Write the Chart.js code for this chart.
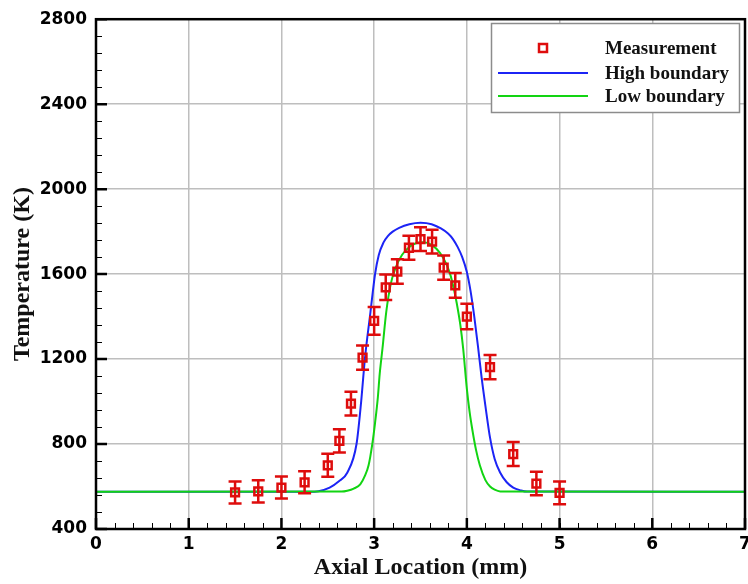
<!DOCTYPE html>
<html>
<head>
<meta charset="utf-8">
<script src="https://cdn.jsdelivr.net/npm/chart.js@4.4.0/dist/chart.umd.min.js"></script>
<style>
  html, body { margin: 0; padding: 0; background: #fff; }
  canvas { display: block; }
</style>
</head>
<body>
<canvas id="tempChart" width="748" height="584"></canvas>
<script>
// measured temperature along the axis, with error bar half-widths
const measX = [1.5, 1.75, 2, 2.25, 2.5, 2.625, 2.75, 2.875, 3, 3.125, 3.25, 3.375, 3.5, 3.625, 3.75, 3.875, 4, 4.25, 4.5, 4.75, 5];
const measT = [572, 577, 595, 620, 700, 815, 990, 1207, 1380, 1538, 1612, 1724, 1765, 1753, 1630, 1547, 1400, 1162, 753, 614, 570];
const measErr = [52, 52, 52, 52, 54, 55, 56, 57, 65, 60, 58, 56, 56, 56, 57, 58, 60, 57, 57, 55, 54];

// simulated profiles
const highX = [0, 2.30, 2.40, 2.52, 2.62, 2.71, 2.81, 2.86, 2.90, 2.96, 3.01, 3.05, 3.10, 3.15, 3.20, 3.27, 3.38, 3.50, 3.62, 3.72, 3.80, 3.85, 3.90, 3.95, 4.00, 4.04, 4.08, 4.12, 4.16, 4.20, 4.25, 4.30, 4.36, 4.43, 4.50, 4.58, 4.65, 7];
const highT = [575, 575, 578, 595, 625, 665, 800, 1000, 1200, 1420, 1600, 1690, 1748, 1780, 1800, 1818, 1835, 1842, 1835, 1815, 1790, 1765, 1728, 1680, 1610, 1520, 1400, 1260, 1110, 980, 830, 730, 665, 620, 595, 582, 576, 575];

const lowX = [0, 2.65, 2.71, 2.78, 2.85, 2.90, 2.94, 2.98, 3.01, 3.04, 3.06, 3.09, 3.13, 3.18, 3.23, 3.30, 3.38, 3.45, 3.53, 3.62, 3.71, 3.77, 3.82, 3.86, 3.89, 3.93, 3.96, 4.00, 4.03, 4.06, 4.10, 4.14, 4.20, 4.25, 4.30, 4.36, 7];
const lowT = [575, 576, 580, 590, 610, 650, 700, 800, 900, 1020, 1130, 1250, 1420, 1555, 1628, 1690, 1728, 1745, 1750, 1738, 1700, 1655, 1600, 1530, 1465, 1360, 1250, 1060, 950, 865, 770, 700, 630, 600, 585, 577, 575];

const xTicks = [0, 1, 2, 3, 4, 5, 6, 7];
const yTicks = [400, 800, 1200, 1600, 2000, 2400, 2800];

const seriesNames = ['Measurement', 'High boundary', 'Low boundary'];
const RED = 'rgb(222,12,12)';
const BLUE = 'rgb(28,36,245)';
const GREEN = 'rgb(18,212,18)';

const toPoints = (xs, ys) => xs.map((x, i) => ({ x: x, y: ys[i] }));

// vertical error bars for the measurement set
const errorBars = {
  id: 'errorBars',
  afterDatasetsDraw(chart) {
    const ctx = chart.ctx;
    const xs = chart.scales.x, ys = chart.scales.y;
    ctx.save();
    ctx.strokeStyle = RED;
    ctx.lineWidth = 2.5;
    measX.forEach((mx, i) => {
      const px = xs.getPixelForValue(mx);
      const top = ys.getPixelForValue(measT[i] + measErr[i]);
      const bot = ys.getPixelForValue(measT[i] - measErr[i]);
      ctx.beginPath();
      ctx.moveTo(px, top); ctx.lineTo(px, bot);
      ctx.moveTo(px - 6.5, top); ctx.lineTo(px + 6.5, top);
      ctx.moveTo(px - 6.5, bot); ctx.lineTo(px + 6.5, bot);
      ctx.stroke();
    });
    ctx.restore();
  }
};

// box frame plus inward major/minor ticks on the left and bottom
const frameTicks = {
  id: 'frameTicks',
  afterDraw(chart) {
    const ctx = chart.ctx;
    const a = chart.chartArea;
    const xs = chart.scales.x, ys = chart.scales.y;
    ctx.save();
    ctx.strokeStyle = '#000';
    // minor
    ctx.lineWidth = 1;
    ctx.beginPath();
    for (let i = 0; i <= 35; i++) {
      const px = Math.round(xs.getPixelForValue(i * 0.2)) + 0.5;
      ctx.moveTo(px, a.bottom); ctx.lineTo(px, a.bottom - 6);
    }
    for (let i = 0; i <= 30; i++) {
      const py = Math.round(ys.getPixelForValue(400 + i * 80)) + 0.5;
      ctx.moveTo(a.left, py); ctx.lineTo(a.left + 6, py);
    }
    ctx.stroke();
    // major
    ctx.lineWidth = 2.5;
    ctx.beginPath();
    xTicks.forEach(v => {
      const px = xs.getPixelForValue(v);
      ctx.moveTo(px, a.bottom); ctx.lineTo(px, a.bottom - 11);
    });
    yTicks.forEach(v => {
      const py = ys.getPixelForValue(v);
      ctx.moveTo(a.left, py); ctx.lineTo(a.left + 11, py);
    });
    ctx.stroke();
    ctx.strokeRect(a.left, a.top, a.right - a.left, a.bottom - a.top);
    ctx.restore();
  }
};

// boxed legend in the upper right corner
const boxLegend = {
  id: 'boxLegend',
  afterDraw(chart) {
    const ctx = chart.ctx;
    ctx.save();
    ctx.fillStyle = '#fff';
    ctx.fillRect(491, 23, 249, 90);
    ctx.strokeStyle = '#8c8c8c';
    ctx.lineWidth = 1.5;
    ctx.strokeRect(491.5, 23.5, 248, 89);

    const rows = [48, 73, 96];
    ctx.strokeStyle = RED;
    ctx.lineWidth = 2.5;
    ctx.strokeRect(539, 44, 8, 8);
    ctx.lineWidth = 2;
    ctx.strokeStyle = BLUE;
    ctx.beginPath(); ctx.moveTo(498, rows[1]); ctx.lineTo(588, rows[1]); ctx.stroke();
    ctx.strokeStyle = GREEN;
    ctx.beginPath(); ctx.moveTo(498, rows[2]); ctx.lineTo(588, rows[2]); ctx.stroke();

    ctx.fillStyle = '#111';
    ctx.font = 'bold 19px "Liberation Serif"';
    ctx.textBaseline = 'middle';
    ctx.textAlign = 'left';
    seriesNames.forEach((n, i) => ctx.fillText(n, 605, rows[i] + 1));
    ctx.restore();
  }
};

const tickFont = { family: 'DejaVu Sans', weight: 'bold', size: 17 };
const titleFont = { family: 'Liberation Serif', weight: 'bold', size: 24 };

new Chart(document.getElementById('tempChart'), {
  type: 'scatter',
  data: {
    datasets: [
      {
        label: seriesNames[0],
        data: toPoints(measX, measT),
        pointStyle: 'rect',
        pointRadius: 5.5,
        pointBorderWidth: 2.5,
        borderColor: RED,
        backgroundColor: 'rgba(0,0,0,0)',
        showLine: false,
        order: 0
      },
      {
        label: seriesNames[1],
        data: toPoints(highX, highT),
        showLine: true,
        borderColor: BLUE,
        borderWidth: 2,
        pointRadius: 0,
        cubicInterpolationMode: 'monotone',
        order: 2
      },
      {
        label: seriesNames[2],
        data: toPoints(lowX, lowT),
        showLine: true,
        borderColor: GREEN,
        borderWidth: 2,
        pointRadius: 0,
        cubicInterpolationMode: 'monotone',
        order: 1
      }
    ]
  },
  options: {
    responsive: false,
    animation: false,
    layout: { autoPadding: false, padding: { top: 14, right: 3, left: 0, bottom: 0 } },
    plugins: {
      legend: { display: false },
      tooltip: { enabled: false }
    },
    scales: {
      x: {
        type: 'linear',
        min: 0,
        max: 7,
        ticks: { stepSize: 1, color: '#000', font: tickFont, padding: 5 },
        grid: { color: 'rgb(190,190,190)', lineWidth: 1.5, drawTicks: false },
        border: { display: false },
        title: {
          display: true,
          text: 'Axial Location (mm)',
          color: '#111',
          font: titleFont,
          padding: { top: 0, bottom: 2 }
        },
        afterFit(s) { s.height = 55; s.paddingRight = 0; s.paddingLeft = 0; }
      },
      y: {
        type: 'linear',
        min: 400,
        max: 2800,
        ticks: { stepSize: 400, color: '#000', font: tickFont, padding: 9, callback: v => String(v) },
        grid: { color: 'rgb(190,190,190)', lineWidth: 1.5, drawTicks: false },
        border: { display: false },
        title: {
          display: true,
          text: 'Temperature (K)',
          color: '#111',
          font: titleFont,
          padding: { top: 8, bottom: 0 }
        },
        afterFit(s) { s.width = 96; }
      }
    }
  },
  plugins: [errorBars, frameTicks, boxLegend]
});
</script>
</body>
</html>
